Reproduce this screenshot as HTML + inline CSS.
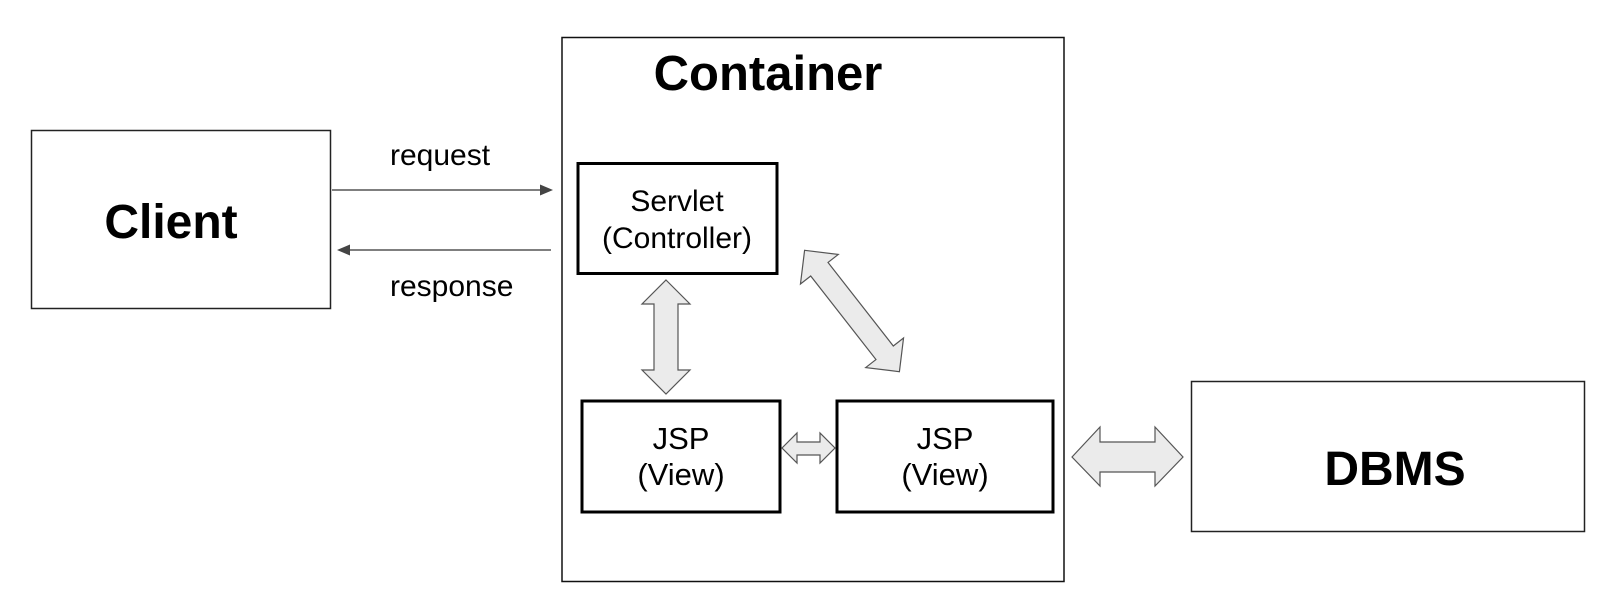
<!DOCTYPE html>
<html><head><style>
html,body{margin:0;padding:0;background:#fff;}
svg{display:block;font-family:"Liberation Sans",Arial,sans-serif;}
</style></head><body>
<svg width="1600" height="592" viewBox="0 0 1600 592" xmlns="http://www.w3.org/2000/svg">
<rect x="0" y="0" width="1600" height="592" fill="#fff"/>
<!-- Client -->
<rect x="31.5" y="130.5" width="299" height="178" fill="#fff" stroke="#222" stroke-width="1.5"/>
<text x="171" y="238" font-size="48" font-weight="bold" text-anchor="middle">Client</text>
<!-- request / response -->
<line x1="332" y1="190" x2="542" y2="190" stroke="#555" stroke-width="1.5"/>
<polygon points="553,190 540,184.5 540,195.5" fill="#444"/>
<text x="390" y="165" font-size="30" fill="#000">request</text>
<line x1="348" y1="250" x2="551" y2="250" stroke="#555" stroke-width="1.5"/>
<polygon points="337,250 350,244.5 350,255.5" fill="#444"/>
<text x="390" y="296" font-size="30" fill="#000">response</text>
<!-- Container -->
<rect x="562" y="37.5" width="502" height="544" fill="none" stroke="#111" stroke-width="1.5"/>
<text x="768" y="90" font-size="49" font-weight="bold" text-anchor="middle">Container</text>
<!-- Servlet -->
<rect x="578" y="163.5" width="199" height="110" fill="#fff" stroke="#000" stroke-width="3"/>
<text x="677" y="211" font-size="30" text-anchor="middle">Servlet</text>
<text x="677" y="248" font-size="30" text-anchor="middle">(Controller)</text>
<!-- JSP 1 -->
<rect x="582" y="401" width="198" height="111" fill="#fff" stroke="#000" stroke-width="3"/>
<text x="681" y="449" font-size="31" text-anchor="middle">JSP</text>
<text x="681" y="485" font-size="31" text-anchor="middle">(View)</text>
<!-- JSP 2 -->
<rect x="837" y="401" width="216" height="111" fill="#fff" stroke="#000" stroke-width="3"/>
<text x="945" y="449" font-size="31" text-anchor="middle">JSP</text>
<text x="945" y="485" font-size="31" text-anchor="middle">(View)</text>
<!-- vertical double arrow -->
<polygon points="666,280 690,304 678,304 678,370 690,370 666,394 642,370 654,370 654,304 642,304" fill="#ebebeb" stroke="#555" stroke-width="1.2"/>
<!-- diagonal double arrow -->
<g transform="translate(852,311) rotate(52)">
<polygon points="-77,0 -53,-24 -53,-11 53,-11 53,-24 77,0 53,24 53,11 -53,11 -53,24" fill="#ebebeb" stroke="#555" stroke-width="1.2"/>
</g>
<!-- small horizontal double arrow -->
<polygon points="782,448 797,433 797,442 820,442 820,433 835,448 820,463 820,455 797,455 797,463" fill="#ebebeb" stroke="#555" stroke-width="1.2"/>
<!-- DBMS arrow -->
<polygon points="1072,457 1100,427 1100,442 1155,442 1155,427 1183,457 1155,486 1155,472 1100,472 1100,486" fill="#ebebeb" stroke="#555" stroke-width="1.2"/>
<!-- DBMS -->
<rect x="1191.5" y="381.5" width="393" height="150" fill="#fff" stroke="#222" stroke-width="1.5"/>
<text x="1395" y="485" font-size="48" font-weight="bold" text-anchor="middle">DBMS</text>
</svg>
</body></html>
